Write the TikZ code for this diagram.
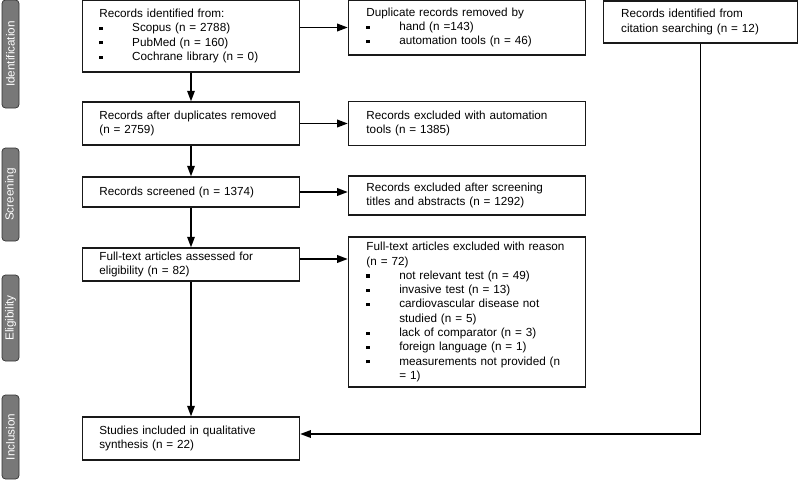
\documentclass[tikz,border=0pt]{standalone}
\usepackage{fontspec}
\setmainfont{Liberation Sans}
\usepackage{tikz}
\usetikzlibrary{shapes,arrows,arrows.meta}
\usetikzlibrary{positioning}
\tikzstyle{block} = [rectangle, draw=black!90, align=left, inner ysep=2pt]
\tikzstyle{leftbox} = [block, text width=156.4pt, inner xsep=14.5pt, node distance=2.625cm]
\tikzstyle{rightbox} = [block, text width=171.6pt, inner xsep=15.4pt, node distance=8.28cm]
\tikzstyle{phase} = [rectangle, rounded corners=3pt, draw=black!80, line width=0.6pt,
    fill=black!53, text=white, rotate=90, minimum height=0.51cm, inner sep=0pt]
\newcommand{\bitem}{\makebox[28pt][l]{\rule[1.5pt]{2.7pt}{2.7pt}}}

\begin{document}
\begin{tikzpicture}[font=\fontsize{10}{12.2}\selectfont, line width=1.2pt,
    >={Triangle[length=9pt,width=6.5pt]}]
\useasboundingbox (0,0) rectangle (24,-14.46);

% Phase labels
\node [phase, minimum width=3.24cm] (ident) at (0.315,-1.62) {Identification};
\node [phase, minimum width=2.79cm] (screen) at (0.315,-5.835) {Screening};
\node [phase, minimum width=2.58cm] (elig) at (0.315,-9.54) {Eligibility};
\node [phase, minimum width=2.52cm] (incl) at (0.315,-13.11) {Inclusion};

% Main column
\node [leftbox, minimum height=2.16cm] (found) at (5.73,-1.08) {Records identified from:\\
\bitem Scopus (n = 2788)\\
\bitem PubMed (n = 160)\\
\bitem Cochrane library (n = 0)};
\node [leftbox, below of=found, minimum height=1.29cm] (dedup) {Records after duplicates removed\\(n = 2759)};
\node [leftbox, below of=dedup, node distance=2.055cm, minimum height=0.9cm] (screened) {Records screened (n = 1374)};
\node [leftbox, below of=screened, node distance=2.175cm, minimum height=0.99cm] (fulltext) {Full-text articles assessed for\\eligibility (n = 82)};
\node [leftbox, below of=fulltext, node distance=5.22cm, minimum height=1.29cm] (included) {Studies included in qualitative\\synthesis (n = 22)};

% Excluded column
\node [rightbox, right of=found, yshift=0.255cm, minimum height=1.65cm] (duplicates) {Duplicate records removed by\\
\bitem hand (n =143)\\
\bitem automation tools (n = 46)};
\node [rightbox, right of=dedup, minimum height=1.32cm] (autoexcl) {Records excluded with automation\\tools (n = 1385)};
\node [rightbox, right of=screened, yshift=-0.105cm, minimum height=1.17cm] (screenexcl) {Records excluded after screening\\titles and abstracts (n = 1292)};
\node [rightbox, right of=fulltext, yshift=-1.425cm, minimum height=4.5cm] (fullexcl) {Full-text articles excluded with reason\\
(n = 72)\\
\bitem not relevant test (n = 49)\\
\bitem invasive test (n = 13)\\
\bitem cardiovascular disease not\\
\hspace*{28pt}studied (n = 5)\\
\bitem lack of comparator (n = 3)\\
\bitem foreign language (n = 1)\\
\bitem measurements not provided (n\\
\hspace*{28pt}= 1)};

\node [block, text width=135.4pt, inner xsep=15.2pt, right of=duplicates, node distance=7.005cm,
    yshift=0.165cm, minimum height=1.26cm] (citation) {Records identified from\\citation searching (n = 12)};

\draw[->] (found) -- (dedup);
\draw[->] (dedup) -- (screened);
\draw[->] (screened) -- (fulltext);
\draw[->] (fulltext) -- (included);

\draw[->] (found.east |- duplicates.west) -- (duplicates.west);
\draw[->] (dedup.east) -- (dedup.east -| autoexcl.west);
\draw[->] (screened.east) -- (screened.east -| screenexcl.west);
\draw[->] ([yshift=0.165cm]fulltext.east) -- ([yshift=0.165cm]fulltext.east -| fullexcl.west);

\draw[->] (citation.south) |- ([yshift=0.135cm]included.east);

\end{tikzpicture}
\end{document}
